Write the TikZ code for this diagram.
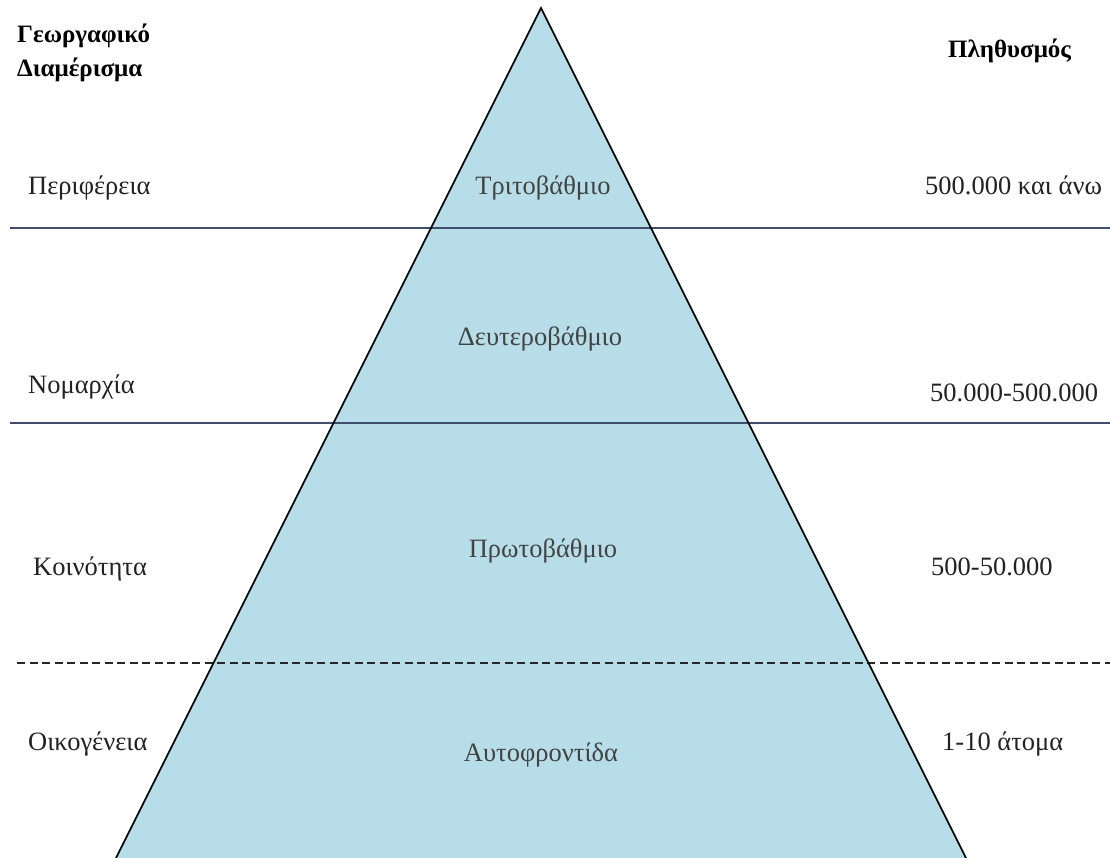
\documentclass[tikz,border=0pt]{standalone}
\usepackage{fontspec}
\setmainfont{Liberation Serif}
\definecolor{pyrfill}{RGB}{183,221,232}
\definecolor{rulecol}{RGB}{62,78,108}
\definecolor{txt}{RGB}{34,34,34}
\begin{document}
\begin{tikzpicture}[x=1pt,y=-1pt,
  lbl/.style={inner sep=0pt,anchor=base west,text=txt,font=\fontsize{26.5}{30}\selectfont},
  lvl/.style={inner sep=0pt,anchor=base,text=txt!85,font=\fontsize{26.5}{30}\selectfont},
  head/.style={inner sep=0pt,anchor=base west,text=black,font=\fontsize{25}{30}\selectfont\bfseries},
  band/.style={draw=rulecol,line width=2pt},
  famline/.style={draw=black!85,line width=2pt,dash pattern=on 8pt off 4.5pt}]
\useasboundingbox (0,0) rectangle (1110,858);

% pyramid
\coordinate (apex) at (541,8);
\coordinate (bl) at (116,858);
\coordinate (br) at (966,858);
\fill[pyrfill] (apex) -- (bl) -- (br) -- cycle;

% level boundaries
\coordinate (r1a) at (10,228);  \coordinate (r1b) at (1110,228);
\coordinate (r2a) at (10,423);  \coordinate (r2b) at (1110,423);
\coordinate (r3a) at (17,663);  \coordinate (r3b) at (1110,663);
\draw[band] (r1a) -- (r1b);
\draw[band] (r2a) -- (r2b);
\draw[famline] (r3a) -- (r3b);

% pyramid sides
\draw[black,line width=1.7pt] (bl) -- (apex) -- (br);

% column headings
\node[head] (hgeo1) at (17,43) {Γεωργαφικό};
\node[head] (hgeo2) at (17,77) {Διαμέρισμα};
\node[head] (hpop) at (948,58) {Πληθυσμός};

% geographic units
\node[lbl] (g1) at (28,195) {Περιφέρεια};
\node[lbl] (g2) at (28,393) {Νομαρχία};
\node[lbl] (g3) at (33,575) {Κοινότητα};
\node[lbl] (g4) at (28,750) {Οικογένεια};

% care levels
\node[lvl] (c1) at (543,195) {Τριτοβάθμιο};
\node[lvl] (c2) at (540,345) {Δευτεροβάθμιο};
\node[lvl] (c3) at (543,557) {Πρωτοβάθμιο};
\node[lvl] (c4) at (541,761) {Αυτοφροντίδα};

% population ranges
\node[lbl] (p1) at (925,195) {500.000 και άνω};
\node[lbl] (p2) at (930,401) {50.000-500.000};
\node[lbl] (p3) at (931,575) {500-50.000};
\node[lbl] (p4) at (942,750) {1-10 άτομα};
\end{tikzpicture}
\end{document}
